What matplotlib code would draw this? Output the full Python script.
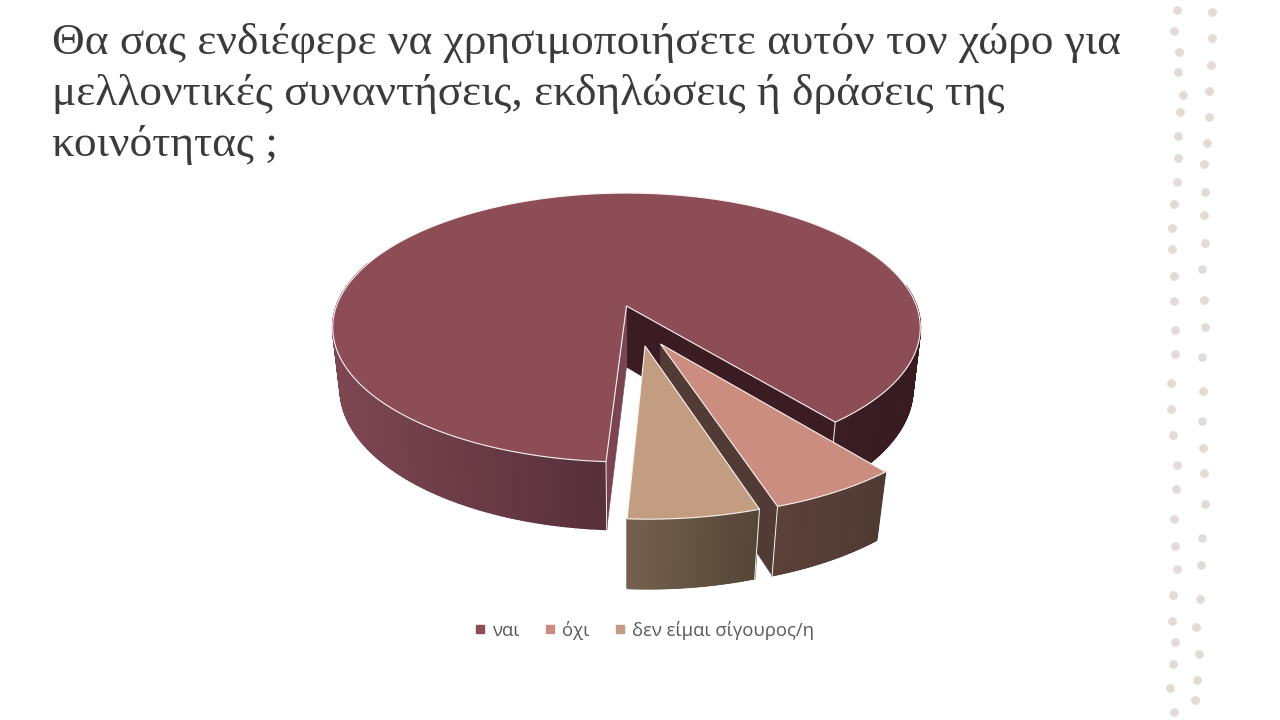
import numpy as np
import matplotlib
matplotlib.use('Agg')
import matplotlib.pyplot as plt
from matplotlib.collections import PolyCollection
from matplotlib.colors import to_rgb
from matplotlib.lines import Line2D
from matplotlib.patches import Polygon

TITLE_LINES = [
    'Θα σας ενδιέφερε να χρησιμοποιήσετε αυτόν τον χώρο για',
    'μελλοντικές συναντήσεις, εκδηλώσεις ή δράσεις της',
    'κοινότητας ;',
]
LABELS = ['ναι', 'όχι', 'δεν είμαι σίγουρος/η']
SHARES = [88.2, 5.9, 5.9]
TOP_COLORS = ['#8d4d57', '#cb8d7f', '#c39d81']

DOT_COLOR = '#e2dbd6'
DOTS_X = [1177, 1174, 1179, 1178, 1183, 1180, 1178, 1178, 1177, 1174, 1172, 1172, 1174, 1174, 1175, 1175,
          1171, 1171, 1173, 1177, 1176, 1174, 1175, 1177, 1173, 1172, 1175, 1173, 1170, 1174,
          1212, 1212, 1211, 1209, 1209, 1207, 1204, 1205, 1204, 1205, 1202, 1204, 1205, 1202,
          1203, 1202, 1203, 1204, 1205, 1202, 1201, 1200, 1196, 1199, 1197, 1195]
DOTS_Y = [10, 31, 52, 72, 95, 112, 136, 158, 182, 204, 228, 249, 276, 301, 330, 354,
          383, 409, 435, 465, 489, 519, 546, 569, 595, 621, 642, 664, 688, 712,
          12, 38, 65, 91, 117, 143, 164, 192, 215, 243, 269, 300, 327, 357,
          391, 421, 448, 473, 504, 538, 565, 599, 627, 654, 680, 700]

# pie drawn on a pixel canvas, perspective fitted to the picture
CX = 626.5
TOP = dict(y0=306, a=290, b=131, k=0.16)
BOTTOM = dict(y0=367, a=283, b=138, k=0.152)
START_ANGLE = 93.4
OFFSETS = [(0, 0), (0.112, 0.277), (0.061, 0.291)]
EDGE = '#fbf3f0'


def project(u, v, plane):
    w = 1 - plane['k'] * v
    return CX + plane['a'] * u / w, plane['y0'] + plane['b'] * v / w


def rim(a0, a1, off, plane, n=120):
    t = np.radians(np.linspace(a0, a1, n))
    x, y = project(np.cos(t) + off[0], np.sin(t) + off[1], plane)
    return np.column_stack([x, y])


def draw_arc_wall(ax, a0, a1, off, c_left, c_right, zorder):
    top = rim(a0, a1, off, TOP)
    bot = rim(a0, a1, off, BOTTOM)
    xmin, xmax = top[:, 0].min(), top[:, 0].max()
    c_left, c_right = np.array(to_rgb(c_left)), np.array(to_rgb(c_right))
    quads, colors = [], []
    for i in range(len(top) - 1):
        quads.append([top[i], top[i + 1], bot[i + 1], bot[i]])
        f = (top[i, 0] - xmin) / max(xmax - xmin, 1)
        colors.append(c_left + (c_right - c_left) * f)
    ax.add_collection(PolyCollection(quads, facecolors=colors, edgecolors=colors,
                                     linewidths=1.2, zorder=zorder))


def draw_cut_wall(ax, angle, off, color, zorder):
    t = np.radians(angle)
    pts = [project(off[0], off[1], TOP),
           project(np.cos(t) + off[0], np.sin(t) + off[1], TOP),
           project(np.cos(t) + off[0], np.sin(t) + off[1], BOTTOM),
           project(off[0], off[1], BOTTOM)]
    ax.add_patch(Polygon(pts, closed=True, facecolor=color, edgecolor=color,
                         linewidth=0.4, zorder=zorder))


def draw_corner(ax, angle, off, zorder):
    t = np.radians(angle)
    p0 = project(np.cos(t) + off[0], np.sin(t) + off[1], TOP)
    p1 = project(np.cos(t) + off[0], np.sin(t) + off[1], BOTTOM)
    ax.plot([p0[0], p1[0]], [p0[1], p1[1]], color=EDGE, lw=0.7, zorder=zorder)


def draw_top(ax, a0, a1, off, color, zorder):
    apex = project(off[0], off[1], TOP)
    pts = np.vstack([[apex], rim(a0, a1, off, TOP, n=400)])
    ax.add_patch(Polygon(pts, closed=True, facecolor=color, edgecolor=EDGE,
                         linewidth=0.8, joinstyle='miter', zorder=zorder))


def main():
    fig = plt.figure(figsize=(12.8, 7.2), dpi=100)
    ax = fig.add_axes([0, 0, 1, 1])
    ax.set_xlim(0, 1280)
    ax.set_ylim(720, 0)
    ax.axis('off')

    ax.scatter(DOTS_X, DOTS_Y, s=40, color=DOT_COLOR, linewidths=0, zorder=1)

    spans = np.array(SHARES) / sum(SHARES) * 360
    # clockwise from the start angle the slices run: ναι, όχι, δεν
    a0, a1 = START_ANGLE, START_ANGLE + spans[0]
    draw_cut_wall(ax, a1, OFFSETS[0], '#3b1c23', 2)
    draw_cut_wall(ax, a0, OFFSETS[0], '#7a4450', 2)
    draw_arc_wall(ax, a1 - 60, a1, OFFSETS[0], '#3b1d24', '#381b21', 3)
    draw_arc_wall(ax, a0, 200, OFFSETS[0], '#7d4752', '#57303a', 3)
    draw_corner(ax, a0, OFFSETS[0], 4)
    draw_corner(ax, a1, OFFSETS[0], 4)
    draw_top(ax, a0, a1, OFFSETS[0], TOP_COLORS[0], 5)

    b0, b1 = a1 - 360, a1 - 360 + spans[1]
    draw_cut_wall(ax, b1, OFFSETS[1], '#533b35', 6)
    draw_arc_wall(ax, b0, b1, OFFSETS[1], '#5a4139', '#503b34', 7)
    draw_corner(ax, b1, OFFSETS[1], 8)
    draw_top(ax, b0, b1, OFFSETS[1], TOP_COLORS[1], 9)

    c0, c1 = b1, b1 + spans[2]
    draw_cut_wall(ax, c0, OFFSETS[2], '#564738', 10)
    draw_arc_wall(ax, c0, c1, OFFSETS[2], '#75604d', '#544638', 11)
    draw_corner(ax, c0, OFFSETS[2], 12)
    draw_top(ax, c0, c1, OFFSETS[2], TOP_COLORS[2], 13)

    for line, y in zip(TITLE_LINES, [54, 105, 156]):
        ax.text(52, y, line, fontsize=32.7, family='Liberation Serif', color='#3b3b3b',
                ha='left', va='baseline', zorder=20)

    handles = [Line2D([], [], linestyle='none', marker='s', markersize=6, color=c)
               for c in TOP_COLORS]
    ax.legend(handles, LABELS, loc='center', bbox_to_anchor=(644, 630),
              bbox_transform=ax.transData, ncol=3, frameon=False,
              prop={'family': 'Open Sans', 'size': 13.3}, labelcolor='#595959',
              handlelength=0.7, handletextpad=0.3, columnspacing=1.3)

    fig.savefig('out.png', dpi=100)
    plt.close(fig)


if __name__ == '__main__':
    main()
